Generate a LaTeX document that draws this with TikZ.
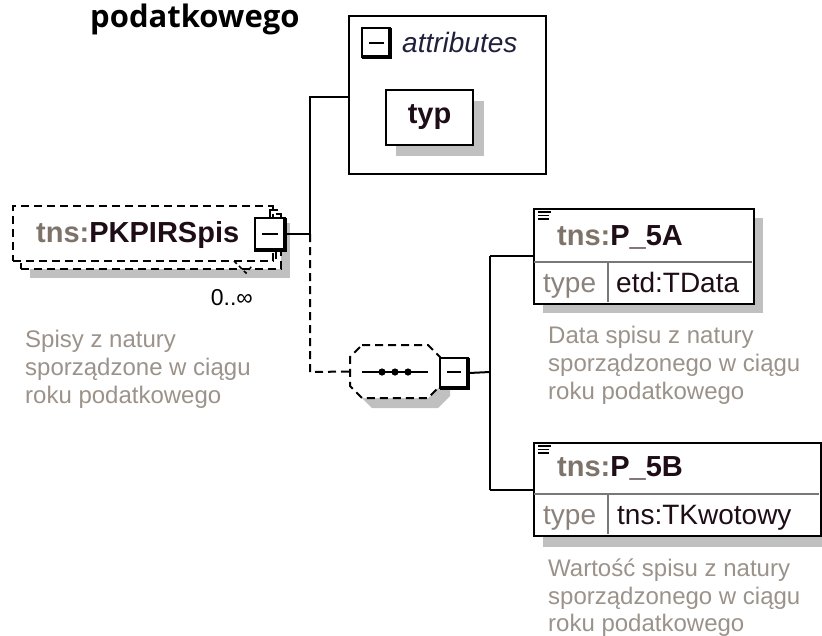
\documentclass[tikz,border=0pt]{standalone}
\usepackage{fontspec}
\setmainfont{Liberation Sans}
\newfontfamily\headfont{Open Sans}
\definecolor{pfx}{RGB}{125,115,105}
\definecolor{nm}{RGB}{30,12,22}
\definecolor{desc}{RGB}{155,146,138}
\definecolor{typc}{RGB}{140,130,124}
\definecolor{attrc}{RGB}{32,32,60}
\definecolor{shade}{RGB}{192,192,192}
\definecolor{divc}{RGB}{120,120,120}
\begin{document}
\begin{tikzpicture}[x=1pt,y=-1pt,
  conn/.style={line width=2pt},
  dconn/.style={line width=2pt, dash pattern=on 8pt off 5pt},
  boxst/.style={draw=black, line width=2pt, fill=white, inner sep=0pt, anchor=north west},
  dbox/.style={draw=black, line width=2pt, dash pattern=on 8pt off 5pt, fill=white, inner sep=0pt, anchor=north west},
  shadowst/.style={fill=shade, draw=none},
  iconst/.style={draw=black, line width=2pt, fill=white, inner sep=0pt},
  namef/.style={font=\fontsize{29}{34}\selectfont\bfseries, inner sep=0pt, anchor=base west},
  typef/.style={font=\fontsize{28}{34}\selectfont, inner sep=0pt, anchor=base west},
  descf/.style={font=\fontsize{24}{28}\selectfont, text=desc, inner sep=0pt, anchor=base west},
  eqicon/.style={line width=1.3pt}
]
\useasboundingbox (0,0) rectangle (822,635);

% heading
\node[font=\headfont\bfseries\fontsize{31}{36}\selectfont, inner sep=0pt, anchor=base west] (head) at (90,27) {podatkowego};

% ---------- tns:PKPIRSpis ----------
\fill[shadowst] (30,223) rectangle (290,278);
\node[dbox, minimum width=260pt, minimum height=55pt] (pkback) at (20,213) {};
\node[dbox, minimum width=260pt, minimum height=55pt] (pk) at (12,205) {};
\draw[line width=1.5pt, dash pattern=on 4pt off 3pt] (234,261) -- (246,273) -- (252,266);
\node[namef] (pkname) at (36,242) {\textcolor{pfx}{tns:}\textcolor{nm}{PKPIRSpis}};
\node[iconst, minimum width=30pt, minimum height=32pt] (pkicon) at (270,234) {};
\draw[line width=3.5pt] (pkicon.south west) ++(0,-1) -- ++(31,0) -- ++(0,-32);
\draw[line width=2pt] (262,234) -- (278,234);
\draw[line width=1.5pt] (pkicon.north) -- ++(0,-7) -- ++(8,0);
\draw[line width=1.5pt] (pkicon.south) ++(6,0) -- ++(0,8);
\node[font=\fontsize{23}{28}\selectfont, inner sep=0pt, anchor=base east] (occ) at (253,305) {0..∞};
\node[descf] (pkd1) at (25,347) {Spisy z natury};
\node[descf] (pkd2) at (25,375) {sporządzone w ciągu};
\node[descf] (pkd3) at (25,403) {roku podatkowego};

% ---------- attributes ----------
\node[boxst, minimum width=197pt, minimum height=158pt] (attr) at (348,15) {};
\node[iconst, minimum width=28pt, minimum height=29pt] (attricon) at (376,42.5) {};
\draw[line width=3.5pt] (attricon.south west) ++(1,-1) -- ++(28,0) -- ++(0,-29);
\draw[line width=2pt] (369,43) -- (384,43);
\node[font=\fontsize{28}{34}\selectfont\itshape, text=attrc, inner sep=0pt, anchor=base west] (attrlbl) at (402,52) {attributes};
\fill[shadowst] (396,101) rectangle (484,156);
\node[draw=black, line width=2pt, fill=white, inner sep=0pt, minimum width=87pt, minimum height=55pt, font=\fontsize{29}{34}\selectfont\bfseries, text=nm] (typ) at (429.5,117.5) {typ};

% ---------- sequence ----------
\fill[shadowst] (372,355) -- (438,355) -- (450,367) -- (450,396) -- (438,408) -- (372,408) -- (360,396) -- (360,367) -- cycle;
\fill[white] (362,345) -- (428,345) -- (440,357) -- (440,386) -- (428,398) -- (362,398) -- (350,386) -- (350,357) -- cycle;
\draw[line width=2pt, dash pattern=on 8pt off 5pt] (362,345) -- (428,345) -- (440,357) -- (440,386) -- (428,398) -- (362,398) -- (350,386) -- (350,357) -- cycle;
\node[inner sep=0pt, minimum width=90pt, minimum height=53pt] (seq) at (395,371.5) {};
\draw[line width=2pt] (362,372) -- (428,372);
\foreach \xx in {382,395,408} \fill (\xx,372) circle (3.6pt);
\node[iconst, minimum width=28pt, minimum height=30pt] (seqicon) at (454,373) {};
\draw[line width=3.5pt] (seqicon.south west) ++(1,-1) -- ++(28,0) -- ++(0,-30);
\draw[line width=2pt] (447,372) -- (461,372);

% ---------- tns:P_5A ----------
\fill[shadowst] (543,218) rectangle (763,313);
\node[boxst, minimum width=220pt, minimum height=95pt] (p5a) at (533,208) {};
\draw[divc, line width=1.5pt] (534,262) -- (752,262);
\draw[divc, line width=1.5pt] (608,262) -- (608,302);
\draw[eqicon] (538,212) -- (551,212) (538,215.5) -- (549,215.5) (538,219) -- (549,219);
\node[namef] (p5aname) at (557,245) {\textcolor{pfx}{tns:}\textcolor{nm}{P\_5A}};
\node[typef, text=typc] (p5atype) at (543,292) {type};
\node[typef, text=nm] (p5aval) at (616,292) {etd:TData};
\node[descf] (p5ad1) at (548,343) {Data spisu z natury};
\node[descf] (p5ad2) at (548,371) {sporządzonego w ciągu};
\node[descf] (p5ad3) at (548,399) {roku podatkowego};

% ---------- tns:P_5B ----------
\fill[shadowst] (543,452) rectangle (830,547);
\node[boxst, minimum width=287pt, minimum height=93pt] (p5b) at (533,442) {};
\draw[divc, line width=1.5pt] (534,494) -- (819,494);
\draw[divc, line width=1.5pt] (608,494) -- (608,534);
\draw[eqicon] (538,446) -- (551,446) (538,449.5) -- (549,449.5) (538,453) -- (549,453);
\node[namef] (p5bname) at (557,476) {\textcolor{pfx}{tns:}\textcolor{nm}{P\_5B}};
\node[typef, text=typc] (p5btype) at (543,524) {type};
\node[typef, text=nm] (p5bval) at (617,524) {tns:TKwotowy};
\node[descf] (p5bd1) at (548,576) {Wartość spisu z natury};
\node[descf] (p5bd2) at (548,604) {sporządzonego w ciągu};
\node[descf] (p5bd3) at (548,631) {roku podatkowego};

% ---------- connectors ----------
\coordinate (j1) at (310,234);
\coordinate (j1top) at (310,97);
\coordinate (j1bot) at (310,372);
\coordinate (j2) at (490,372);
\coordinate (j2a) at (490,256);
\coordinate (j2b) at (490,490);
\draw[conn] (pkicon.east) -- (j1) -- (j1top) -- (j1top -| attr.west);
\draw[dconn] (j1) -- (j1bot) -- (seq.west);
\draw[conn] (seqicon.east) -- (j2);
\draw[conn] (j2a) -- (j2b);
\draw[conn] (j2a) -- (j2a -| p5a.west);
\draw[conn] (j2b) -- (j2b -| p5b.west);
\end{tikzpicture}
\end{document}
